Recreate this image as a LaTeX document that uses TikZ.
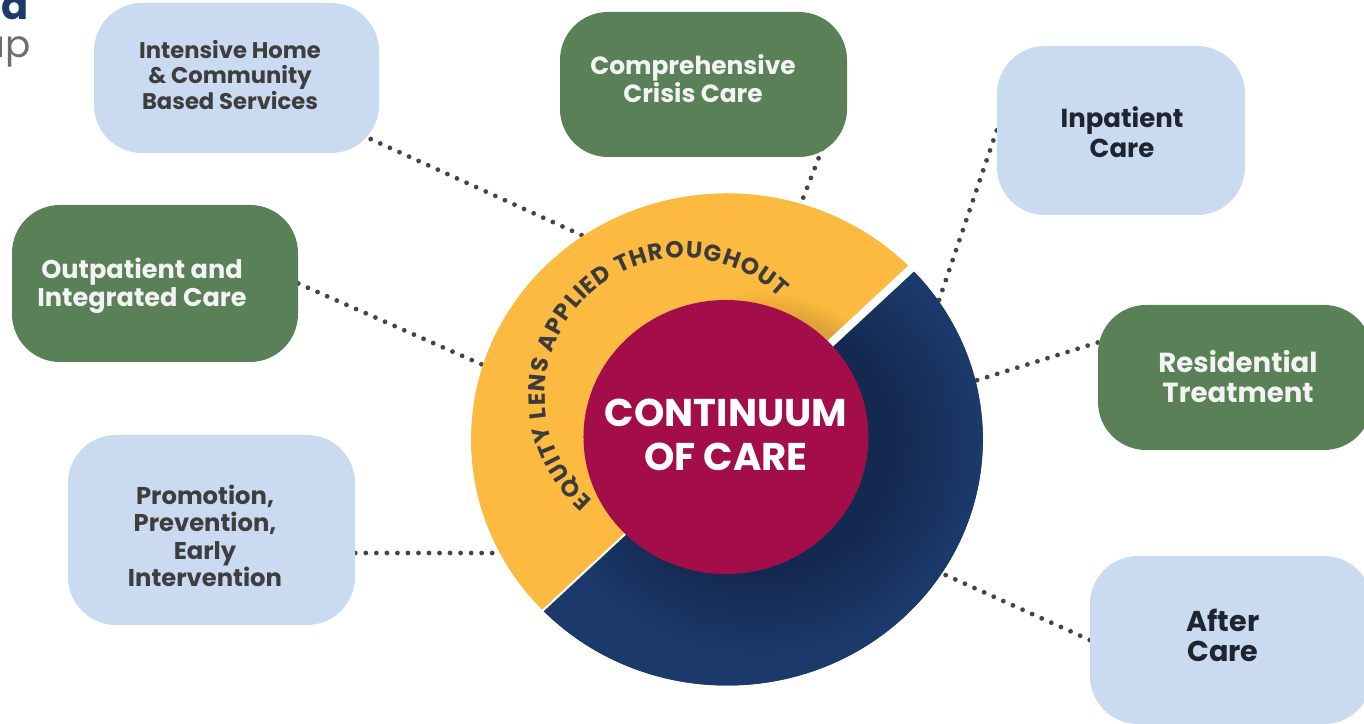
\documentclass[tikz,border=0pt]{standalone}
\usepackage{fontspec}
\setmainfont{Poppins}
\usetikzlibrary{decorations.text,calc}
\definecolor{lblue}{RGB}{201,218,241}
\definecolor{dgreen}{RGB}{90,128,88}
\definecolor{yel}{RGB}{253,186,64}
\definecolor{yelD}{RGB}{222,162,56}
\definecolor{navy}{RGB}{27,58,107}
\definecolor{navyD}{RGB}{20,41,80}
\definecolor{mag}{RGB}{163,14,74}
\definecolor{dotc}{RGB}{68,68,68}
\definecolor{txtgray}{RGB}{62,62,62}
\definecolor{txtdark}{RGB}{31,36,48}
\definecolor{txtwhite}{RGB}{243,243,243}
\definecolor{ringtxt}{RGB}{59,59,59}
\definecolor{logogray}{RGB}{110,110,110}
\pgfdeclareradialshading{navysh}{\pgfpoint{0bp}{0bp}}{color(0bp)=(navyD); color(11bp)=(navyD); color(18bp)=(navy); color(50bp)=(navy)}
\pgfdeclareradialshading{yelsh}{\pgfpoint{0bp}{0bp}}{color(0bp)=(yelD); color(10.8bp)=(yelD); color(12.6bp)=(yel); color(50bp)=(yel)}
\pgfdeclarelayer{bg}
\pgfsetlayers{bg,main}
\begin{document}
\begin{tikzpicture}[x=0.75pt,y=0.75pt,
  box/.style={rounded corners=36pt, inner sep=0pt, draw=none},
  bluebox/.style={box, fill=lblue},
  greenbox/.style={box, fill=dgreen},
  lbl/.style={align=center, inner sep=0pt},
  dots/.style={draw=dotc, line width=3.6pt, line cap=round, dash pattern=on 0pt off 7.9pt}]
\useasboundingbox (0,0) rectangle (1364,724);

% logo fragments
\node[anchor=base east, inner sep=0pt, text=navy, font=\bfseries\fontsize{30pt}{30pt}\selectfont] (logoA) at (29,704) {d};
\node[anchor=base east, inner sep=0pt, text=logogray, font=\fontsize{28pt}{28pt}\selectfont] (logoB) at (31,666) {up};

% boxes
\node[bluebox, minimum width=213.75pt, minimum height=112.5pt] (intensive) at (236.5,646) {};
\node[greenbox, minimum width=215.25pt, minimum height=108.75pt] (crisis) at (703.5,639.5) {};
\node[bluebox, minimum width=186pt, minimum height=126.75pt] (inpatient) at (1121,593.5) {};
\node[greenbox, minimum width=214.5pt, minimum height=117.75pt] (outpatient) at (155,440.5) {};
\node[greenbox, minimum width=205.5pt, minimum height=108.75pt] (residential) at (1235,346.5) {};
\node[bluebox, minimum width=215.25pt, minimum height=142.5pt] (promotion) at (211.5,194) {};
\node[bluebox, minimum width=211.5pt, minimum height=126pt] (aftercare) at (1231,84) {};

% box texts
\node[lbl, text=txtgray, font=\bfseries\fontsize{17pt}{19pt}\selectfont] (t1) at (230,649) {Intensive Home\\\& Community\\Based Services};
\node[lbl, text=txtwhite, font=\bfseries\fontsize{18.7pt}{21pt}\selectfont] (t2) at (693,645) {Comprehensive\\Crisis Care};
\node[lbl, text=txtdark, font=\bfseries\fontsize{19.5pt}{22.5pt}\selectfont] (t3) at (1122,592) {Inpatient\\Care};
\node[lbl, text=txtwhite, font=\bfseries\fontsize{19.2pt}{21pt}\selectfont] (t4) at (142,438) {Outpatient and\\Integrated Care};
\node[lbl, text=txtwhite, font=\bfseries\fontsize{20.7pt}{22.5pt}\selectfont] (t5) at (1238,347) {Residential\\Treatment};
\node[lbl, text=txtgray, font=\bfseries\fontsize{18.2pt}{20.5pt}\selectfont] (t6) at (205,188) {Promotion,\\Prevention,\\Early\\Intervention};
\node[lbl, text=txtdark, font=\bfseries\fontsize{21.5pt}{22.5pt}\selectfont] (t7) at (1223,89) {After\\Care};

% connector ends inside the ring
\coordinate (e1) at (590,485);
\coordinate (e2) at (800,518);
\coordinate (e3) at (936,415);
\coordinate (e4) at (492,355);
\coordinate (e5) at (965,340);
\coordinate (e6) at (512,171);
\coordinate (e7) at (930,156);

\begin{pgfonlayer}{bg}
\draw[dots] (intensive.center) -- (e1);
\draw[dots] ($(crisis.east)!12pt!(e2)$) -- (e2);
\draw[dots] (inpatient.west) -- (e3);
\draw[dots] (outpatient.east) -- (e4);
\draw[dots] ($(residential.west)+(0,35)$) -- (e5);
\draw[dots] ($(promotion.east)+(0,-23)$) -- (e6);
\draw[dots] (aftercare.west) -- (e7);
\end{pgfonlayer}

% ring
\begin{scope}[shift={(727,284.5)}, xscale=1.04]
  \begin{scope}
    \clip (0,0) -- (44:246) arc[start angle=44,end angle=224,radius=246] -- cycle;
    \fill[yel] (0,0) circle[radius=250];
    \shade[shading=yelsh] (30,-3) circle[radius=300];
  \end{scope}
  \begin{scope}
    \clip (0,0) -- (224:246) arc[start angle=224,end angle=404,radius=246] -- cycle;
    \fill[navy] (0,0) circle[radius=250];
    \shade[shading=navysh] (30,-3) circle[radius=300];
  \end{scope}
  \draw[white, line width=6pt] (0,0) -- (44:252);
  \draw[white, line width=1.5pt] (0,0) -- (224:250);
  \fill[mag] (-1,2.5) circle[radius=137];
\end{scope}

\node[lbl, text=white, font=\bfseries\fontsize{29pt}{33pt}\selectfont] (core) at (726,289) {CONTINUUM\\OF CARE};

\path[decorate, decoration={text along path, text align={fit to path}, text color=ringtxt,
  text={|\bfseries\fontsize{17.5pt}{18pt}\selectfont|EQUITY LENS APPLIED THROUGHOUT}}]
  (683,328) ++(229:138) arc[start angle=229, end angle=45.5, radius=138];
\end{tikzpicture}
\end{document}
